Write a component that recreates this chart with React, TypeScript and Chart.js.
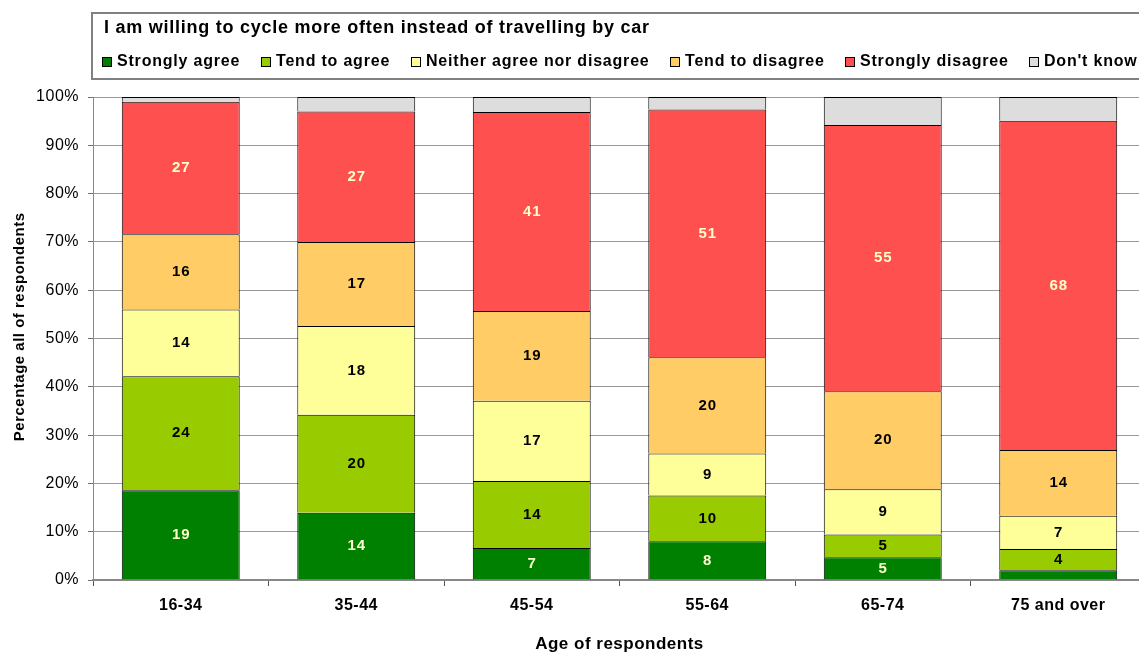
import React, { useEffect, useRef } from "react";
import { Chart, registerables } from "chart.js";

Chart.register(...registerables);

const CHART_TITLE = "I am willing to cycle more often instead of travelling by car";
const CATEGORIES = ["16-34", "35-44", "45-54", "55-64", "65-74", "75 and over"];
const SERIES_NAMES = [
  "Strongly agree",
  "Tend to agree",
  "Neither agree nor disagree",
  "Tend to disagree",
  "Strongly disagree",
  "Don't know",
];
const STRONGLY_AGREE = [18.6, 13.9, 6.6, 8.0, 4.7, 2.0];
const TEND_TO_AGREE = [23.6, 20.3, 13.9, 9.5, 4.7, 4.4];
const NEITHER = [13.8, 18.4, 16.6, 8.7, 9.4, 6.9];
const TEND_TO_DISAGREE = [15.6, 17.4, 18.6, 19.9, 20.3, 13.6];
const STRONGLY_DISAGREE = [27.4, 27.0, 41.2, 51.3, 55.1, 68.2];
const DONT_KNOW = [1.0, 3.0, 3.1, 2.6, 5.8, 4.9];
const Y_TICK_STEP = 10;
const X_TITLE = "Age of respondents";
const Y_TITLE = "Percentage all of respondents";

const SERIES_VALUES = [STRONGLY_AGREE, TEND_TO_AGREE, NEITHER, TEND_TO_DISAGREE, STRONGLY_DISAGREE, DONT_KNOW];
const COLORS = ["#008000", "#99CC00", "#FFFF99", "#FFCC66", "#FF5050", "#DDDDDD"];
const LABEL_COLORS = ["#FFFFCC", "#000000", "#000000", "#000000", "#FFFFCC", null];

const FONT = '"Liberation Sans", Arial, sans-serif';

const spacingPlugin = {
  id: "textSpacing",
  beforeDraw(chart: any) {
    (chart.ctx as any).letterSpacing = "0.5px";
  },
  afterDraw(chart: any) {
    (chart.ctx as any).letterSpacing = "0px";
  },
};

const legendPlugin = {
  id: "boxLegend",
  afterDraw(chart: any) {
    const ctx = chart.ctx;
    ctx.save();
    ctx.strokeStyle = "#808080";
    ctx.lineWidth = 2;
    ctx.strokeRect(92, 13, 1200, 66);
    ctx.fillStyle = "#000";
    ctx.textBaseline = "middle";
    ctx.textAlign = "left";
    ctx.font = `bold 18px ${FONT}`;
    (ctx as any).letterSpacing = "0.75px";
    ctx.fillText(CHART_TITLE, 104, 28);
    ctx.font = `bold 16px ${FONT}`;
    (ctx as any).letterSpacing = "0.8px";
    let x = 102;
    chart.data.datasets.forEach((ds: any) => {
      ctx.fillStyle = ds.backgroundColor;
      ctx.fillRect(x, 57, 9, 9);
      ctx.strokeStyle = "#000";
      ctx.lineWidth = 1;
      ctx.strokeRect(x + 0.5, 57.5, 9, 9);
      ctx.fillStyle = "#000";
      ctx.fillText(ds.label, x + 15, 62);
      x = Math.round(x + 15 + ctx.measureText(ds.label).width + 20.5);
    });
    ctx.restore();
  },
};

const valueLabelPlugin = {
  id: "valueLabels",
  afterDatasetsDraw(chart: any) {
    const ctx = chart.ctx;
    ctx.save();
    ctx.font = `bold 15px ${FONT}`;
    (ctx as any).letterSpacing = "1px";
    ctx.textAlign = "center";
    ctx.textBaseline = "middle";
    chart.data.datasets.forEach((ds: any, di: number) => {
      const color = LABEL_COLORS[di];
      if (!color) return;
      const meta = chart.getDatasetMeta(di);
      meta.data.forEach((el: any, i: number) => {
        const v = ds.data[i];
        if (v < 3) return;
        const { x, y, base } = el.getProps(["x", "y", "base"], true);
        ctx.fillStyle = color;
        ctx.fillText(String(Math.round(v)), x + 0.5, (y + base) / 2);
      });
    });
    ctx.restore();
  },
};

export default function App() {
  const ref = useRef<HTMLCanvasElement>(null);

  useEffect(() => {
    if (!ref.current) return;
    document.body.style.overflow = "hidden";
    const chart = new Chart(ref.current, {
      type: "bar",
      data: {
        labels: CATEGORIES,
        datasets: SERIES_NAMES.map((name, i) => ({
          label: name,
          data: SERIES_VALUES[i],
          backgroundColor: COLORS[i],
          borderColor: "#000000",
          borderWidth: { top: 1, left: 1, right: 1, bottom: 0 },
          borderSkipped: false,
          barPercentage: 0.672,
          categoryPercentage: 1.0,
        })),
      },
      options: {
        responsive: false,
        animation: false,
        devicePixelRatio: 1,
        layout: { padding: { top: 97, right: 14, bottom: 0, left: 0 } },
        plugins: {
          legend: { display: false },
          title: { display: false },
          tooltip: { enabled: false },
        },
        scales: {
          x: {
            stacked: true,
            offset: true,
            grid: {
              display: true,
              drawOnChartArea: false,
              drawTicks: true,
              tickLength: 6,
              offset: true,
              color: "#555555",
            },
            border: { display: true, color: "#888888", width: 2 },
            ticks: {
              color: "#000",
              font: { family: FONT, size: 16, weight: "bold" },
              padding: 10,
              maxRotation: 0,
              autoSkip: false,
            },
            title: {
              display: true,
              text: X_TITLE,
              color: "#000",
              font: { family: FONT, size: 17, weight: "bold" },
              padding: { top: 0, bottom: 0 },
            },
            afterFit: (s: any) => {
              s.height = 75;
            },
          },
          y: {
            stacked: true,
            min: 0,
            max: 100,
            ticks: {
              stepSize: Y_TICK_STEP,
              callback: (v: any) => v + "%",
              color: "#000",
              font: { family: FONT, size: 16 },
              padding: 9,
            },
            grid: { color: "#999999", tickLength: 5, drawTicks: true, tickColor: "#707070" },
            border: { display: true, color: "#888888", width: 1 },
            title: {
              display: true,
              text: "     " + Y_TITLE,
              color: "#000",
              font: { family: FONT, size: 15, weight: "bold" },
              padding: { top: 11, bottom: 0 },
            },
            afterFit: (s: any) => {
              s.width = 93;
            },
          },
        },
      } as any,
      plugins: [spacingPlugin, valueLabelPlugin, legendPlugin],
    });
    return () => chart.destroy();
  }, []);

  return (
    <div
      style={{
        position: "absolute",
        left: 0,
        top: 0,
        width: 1139,
        height: 655,
        overflow: "hidden",
        background: "#fff",
      }}
    >
      <canvas ref={ref} width={1160} height={655} style={{ display: "block" }} />
    </div>
  );
}
